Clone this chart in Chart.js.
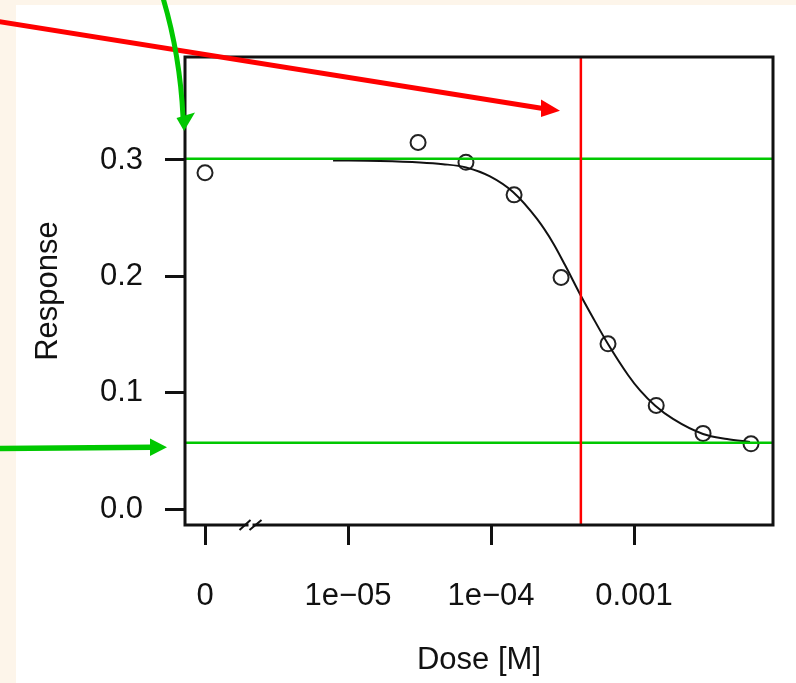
<!DOCTYPE html>
<html>
<head>
<meta charset="utf-8">
<script src="https://cdn.jsdelivr.net/npm/chart.js@4.4.0/dist/chart.umd.min.js"></script>
<style>
  html, body { margin: 0; padding: 0; background: #fdf5ea; }
  #wrap { width: 796px; height: 683px; }
</style>
</head>
<body>
<div id="wrap"><canvas id="myChart" width="796" height="683"></canvas></div>
<script>
// measured doses (M) and responses, dose 0 = control
const doses = [0, 3.09e-5, 6.68e-5, 1.45e-4, 3.09e-4, 6.58e-4, 1.43e-3, 3.04e-3, 6.58e-3];
const responses = [0.289, 0.315, 0.298, 0.270, 0.199, 0.142, 0.089, 0.065, 0.056];

// fitted curve
const curveDoses = [7.86e-6, 1.674e-5, 3.187e-5, 4.617e-5, 6.686e-5, 9.84e-5, 1.425e-4, 2.098e-4, 2.714e-4, 3.293e-4,
                    4.259e-4, 5.085e-4, 6.579e-4, 9.08e-4, 1.102e-3, 1.402e-3, 1.874e-3, 3.038e-3, 4.471e-3, 6.475e-3];
const curveResp = [0.2996, 0.2991, 0.2979, 0.2964, 0.2936, 0.2859, 0.2725, 0.2493, 0.2287, 0.2097,
                   0.1831, 0.1659, 0.1418, 0.1152, 0.1019, 0.0890, 0.0774, 0.0645, 0.0602, 0.0576];

// fit parameters marked on the plot
const ec50 = 4.25e-4;
const topLevel = 0.301;
const bottomLevel = 0.057;

// axes
const zeroDose = 1e-6; // where dose 0 is put on the log axis
const xTicks = [1e-6, 1e-5, 1e-4, 1e-3];
const xTickLabels = ['0', '1e\u221205', '1e\u221204', '0.001'];
const yTicks = [0, 0.1, 0.2, 0.3];

const black = '#111';
const green = '#00c800';
const red = '#ff0000';
const fontFam = "'Liberation Sans', Arial, sans-serif";

const plotPoints = doses.map((d, i) => ({ x: d === 0 ? zeroDose : d, y: responses[i] }));
const curvePoints = curveDoses.map((d, i) => ({ x: d, y: curveResp[i] }));

function arrowHead(ctx, pts, color) {
  ctx.fillStyle = color;
  ctx.beginPath();
  ctx.moveTo(pts[0][0], pts[0][1]);
  ctx.lineTo(pts[1][0], pts[1][1]);
  ctx.lineTo(pts[2][0], pts[2][1]);
  ctx.closePath();
  ctx.fill();
}

const decorations = {
  id: 'decorations',
  beforeDraw(chart) {
    const ctx = chart.ctx;
    ctx.save();
    ctx.fillStyle = '#fdf5ea';
    ctx.fillRect(0, 0, chart.width, chart.height);
    ctx.fillStyle = '#ffffff';
    ctx.fillRect(16, 5, chart.width - 16, chart.height - 5);
    ctx.restore();
  },
  afterDatasetsDraw(chart) {
    const { ctx, chartArea: a, scales: { x, y } } = chart;
    ctx.save();
    ctx.lineWidth = 2.5;
    ctx.strokeStyle = green;
    [topLevel, bottomLevel].forEach(v => {
      const py = y.getPixelForValue(v);
      ctx.beginPath();
      ctx.moveTo(a.left, py);
      ctx.lineTo(a.right, py);
      ctx.stroke();
    });
    ctx.strokeStyle = red;
    const px = x.getPixelForValue(ec50);
    ctx.beginPath();
    ctx.moveTo(px, a.top);
    ctx.lineTo(px, a.bottom);
    ctx.stroke();
    ctx.restore();
  },
  afterDraw(chart) {
    const { ctx, chartArea: a, scales: { x } } = chart;
    ctx.save();
    // plot box
    ctx.strokeStyle = black;
    ctx.lineWidth = 3;
    ctx.strokeRect(a.left, a.top, a.right - a.left, a.bottom - a.top);
    // axis break between 0 and the log doses
    const bx = (x.getPixelForValue(zeroDose) + x.getPixelForValue(1e-5)) / 2 - 37;
    ctx.fillStyle = '#fff';
    ctx.fillRect(bx + 9, a.bottom - 3, 4, 6);
    ctx.lineWidth = 2;
    ctx.beginPath();
    ctx.moveTo(bx, a.bottom + 5); ctx.lineTo(bx + 11, a.bottom - 5);
    ctx.moveTo(bx + 10, a.bottom + 5); ctx.lineTo(bx + 22, a.bottom - 5);
    ctx.stroke();

    // red arrow
    ctx.strokeStyle = red;
    ctx.lineWidth = 5;
    ctx.beginPath();
    ctx.moveTo(-2, 21.5);
    ctx.lineTo(543, 108.5);
    ctx.stroke();
    arrowHead(ctx, [[541, 99.5], [560, 110.7], [541, 117]], red);

    // green arrows
    ctx.strokeStyle = green;
    ctx.beginPath();
    ctx.moveTo(163, -2);
    ctx.quadraticCurveTo(180, 55, 183, 117);
    ctx.stroke();
    arrowHead(ctx, [[176.5, 118], [195, 112.5], [184, 131]], green);

    ctx.lineWidth = 5.5;
    ctx.beginPath();
    ctx.moveTo(-2, 448.5);
    ctx.lineTo(152, 447.3);
    ctx.stroke();
    arrowHead(ctx, [[150, 438.5], [167, 447.3], [150, 456]], green);
    ctx.restore();
  }
};

const ctx = document.getElementById('myChart').getContext('2d');
const chart = new Chart(ctx, {
  data: {
    datasets: [
      {
        type: 'line',
        data: curvePoints,
        borderColor: black,
        borderWidth: 2,
        pointRadius: 0,
        cubicInterpolationMode: 'monotone',
        fill: false
      },
      {
        type: 'scatter',
        data: plotPoints,
        borderColor: '#222',
        backgroundColor: 'rgba(0,0,0,0)',
        pointRadius: 7.5,
        pointBorderWidth: 2
      }
    ]
  },
  options: {
    responsive: false,
    animation: false,
    events: [],
    layout: { padding: { top: 57, right: 23, left: 0, bottom: 0 } },
    plugins: { legend: { display: false }, tooltip: { enabled: false } },
    scales: {
      x: {
        type: 'logarithmic',
        min: Math.pow(10, -6.14),
        max: Math.pow(10, -2.028),
        afterBuildTicks: s => { s.ticks = xTicks.map(v => ({ value: v })); },
        afterFit: s => { s.height = 158; },
        border: { display: false },
        grid: { drawOnChartArea: false, drawTicks: true, tickLength: 20, tickColor: black, tickWidth: 3 },
        ticks: {
          autoSkip: false,
          maxRotation: 0,
          padding: 33,
          color: black,
          font: { family: fontFam, size: 31 },
          callback: (v, i) => xTickLabels[i]
        },
        title: {
          display: true,
          text: 'Dose [M]',
          color: black,
          font: { family: fontFam, size: 31 },
          padding: { top: 0, bottom: 4 }
        }
      },
      y: {
        min: -0.01375,
        max: 0.3885,
        afterBuildTicks: s => { s.ticks = yTicks.map(v => ({ value: v })); },
        afterFit: s => { s.width = 185; },
        border: { display: false },
        grid: { drawOnChartArea: false, drawTicks: true, tickLength: 20, tickColor: black, tickWidth: 3 },
        ticks: {
          padding: 22,
          color: black,
          font: { family: fontFam, size: 31 },
          callback: v => v.toFixed(1)
        },
        title: {
          display: true,
          text: 'Response',
          color: black,
          font: { family: fontFam, size: 31 },
          padding: { top: 30, bottom: 0 }
        }
      }
    }
  },
  plugins: [decorations]
});
</script>
</body>
</html>
